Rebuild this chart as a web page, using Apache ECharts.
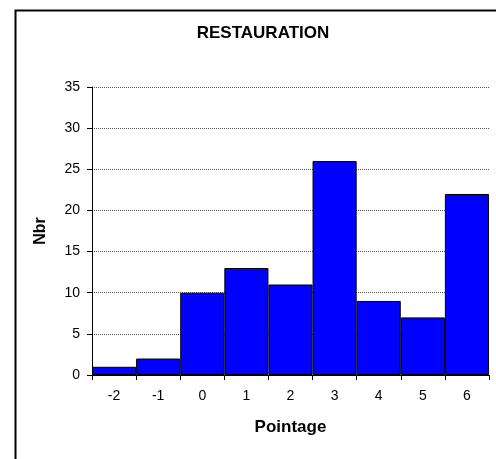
<!DOCTYPE html>
<html>
<head>
<meta charset="utf-8">
<script src="https://cdn.jsdelivr.net/npm/echarts@6/dist/echarts.min.js"></script>
<style>html,body{margin:0;padding:0;background:#fff;}#c{width:496px;height:459px;}</style>
</head>
<body>
<div id="c"></div>
<script>
var categories = ['-2','-1','0','1','2','3','4','5','6'];
var values = [1, 2, 10, 13, 11, 26, 9, 7, 22];
var titleText = 'RESTAURATION';
var xName = 'Pointage';
var yName = 'Nbr';

var chart = echarts.init(document.getElementById('c'), null, {renderer: 'canvas'});
var font = 'Liberation Sans, Arial, sans-serif';
chart.setOption({
  animation: false,
  backgroundColor: '#fff',
  graphic: [{
    type: 'rect', left: 13, top: 8, z: 100, silent: true,
    shape: {x: 0, y: 0, width: 600, height: 600},
    style: {fill: 'none', stroke: '#000', lineWidth: 2}
  }],
  title: {
    text: titleText, left: 258, top: 20, textAlign: 'center',
    textStyle: {fontFamily: font, fontSize: 17, fontWeight: 'bold', color: '#000'}
  },
  grid: {left: 92, right: 7, top: 87, bottom: 84, containLabel: false},
  xAxis: {
    type: 'category', data: categories,
    name: xName, nameLocation: 'middle', nameGap: 44,
    nameTextStyle: {fontFamily: font, fontSize: 17, fontWeight: 'bold', color: '#000'},
    axisLine: {show: true, lineStyle: {color: '#000', width: 1}},
    axisTick: {show: true, length: 5, lineStyle: {color: '#000'}},
    axisLabel: {fontFamily: font, fontSize: 14, color: '#000', margin: 14},
    splitLine: {show: false}
  },
  yAxis: {
    type: 'value', min: 0, max: 35, interval: 5,
    name: yName, nameLocation: 'middle', nameGap: 43, nameRotate: 90,
    nameTextStyle: {fontFamily: font, fontSize: 16, fontWeight: 'bold', color: '#000'},
    axisLine: {show: true, lineStyle: {color: '#000', width: 1}},
    axisTick: {show: true, length: 5, lineStyle: {color: '#000'}},
    axisLabel: {fontFamily: font, fontSize: 14, color: '#000', margin: 12},
    splitLine: {show: true, lineStyle: {color: '#555', type: [1, 1], width: 1}}
  },
  series: [{
    type: 'bar', data: values, barCategoryGap: 0, barGap: 0,
    itemStyle: {color: '#0000FF', borderColor: '#000', borderWidth: 1}
  }]
});
</script>
</body>
</html>
